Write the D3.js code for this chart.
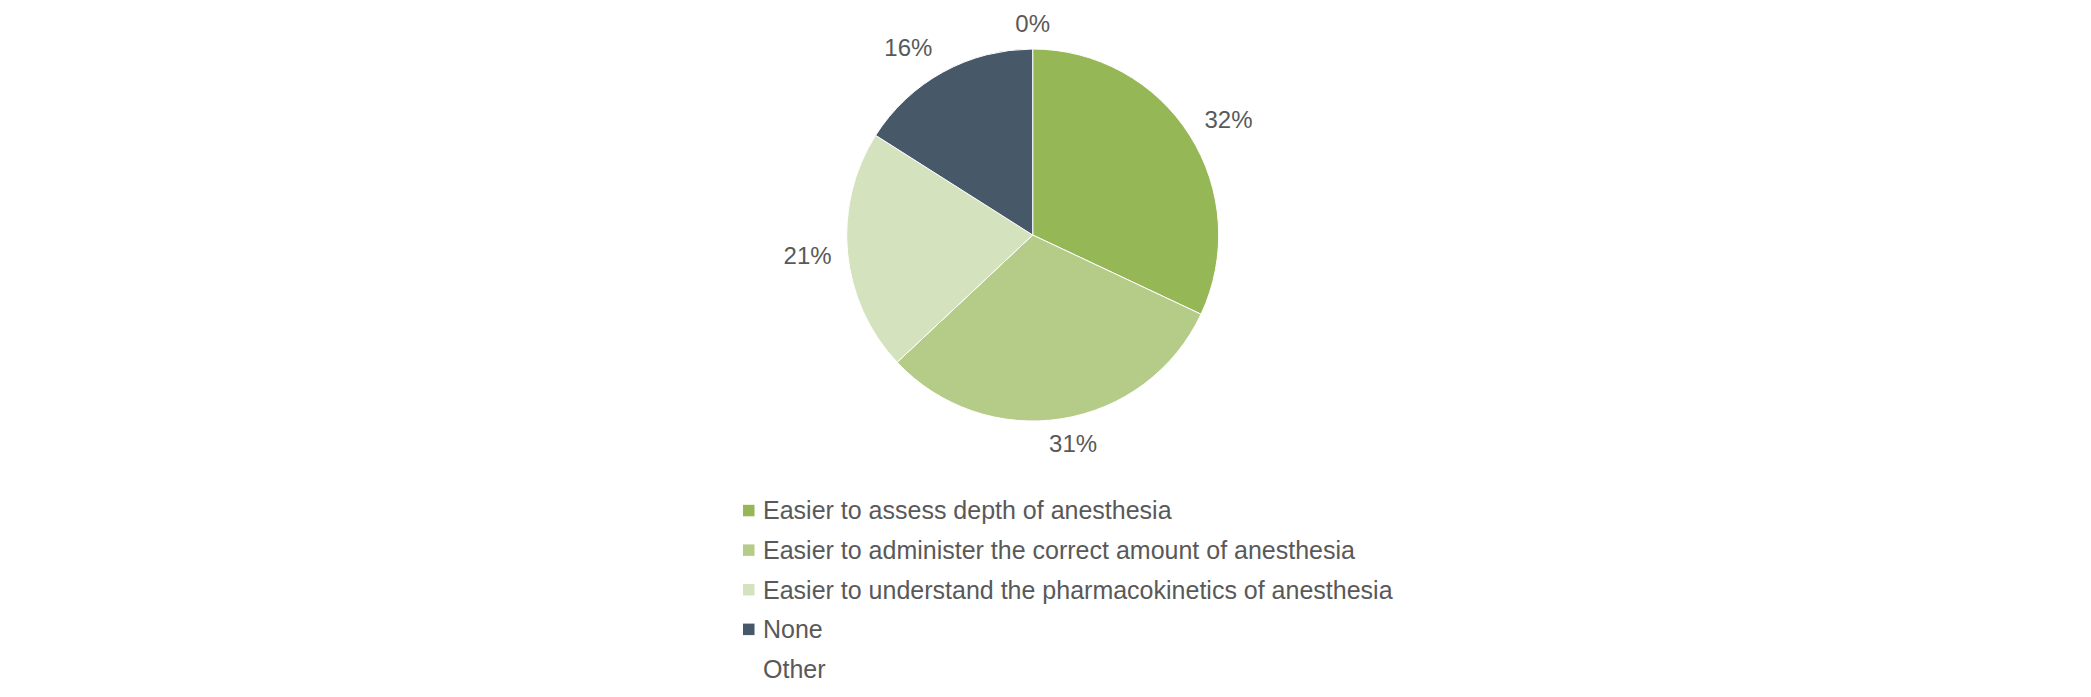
<!DOCTYPE html>
<html>
<head>
<meta charset="utf-8">
<script src="https://cdn.jsdelivr.net/npm/d3@7"></script>
<style>
  html, body { margin: 0; padding: 0; background: #ffffff; }
  svg { display: block; }
  text { font-family: "Liberation Sans", Arial, sans-serif; fill: #595959; }
</style>
</head>
<body>
<svg id="chart" width="2091" height="697"></svg>
<script>
const categories = [
  "Easier to assess depth of anesthesia",
  "Easier to administer the correct amount of anesthesia",
  "Easier to understand the pharmacokinetics of anesthesia",
  "None",
  "Other"
];
const values = [32, 31, 21, 16, 0];
const colors = ["#95b755", "#b5cc88", "#d4e2bd", "#475869", "#ffffff"];

const W = 2091, H = 697;
const cx = 1032.7, cy = 235, R = 186;
const svg = d3.select("#chart");

const data = categories.map((c, i) => ({ name: c, value: values[i], color: colors[i] }));

const pie = d3.pie().sort(null).value(d => d.value);
const arcs = pie(data);
const arc = d3.arc().innerRadius(0).outerRadius(R);

const g = svg.append("g").attr("transform", `translate(${cx},${cy})`);

g.selectAll("path.slice")
  .data(arcs.filter(a => a.data.value > 0))
  .join("path")
  .attr("class", "slice")
  .attr("d", arc)
  .attr("fill", d => d.data.color)
  .attr("stroke", "#ffffff")
  .attr("stroke-width", 1);

// labels (outside end)
const total = d3.sum(values);
const fmt = v => Math.round(v / total * 100) + "%";
const fs = 24;
const gap = 8, px = 8, py = 3, kx = 2, ky = 1.2;
const clamp = v => Math.max(-1, Math.min(1, v));

arcs.forEach(a => {
  const mid = (a.startAngle + a.endAngle) / 2;
  const s = Math.sin(mid), c = Math.cos(mid);
  const label = fmt(a.data.value);
  const t = g.append("text")
    .attr("font-size", fs)
    .attr("text-anchor", "middle")
    .attr("dy", "0.35em")
    .text(label);
  const tw = t.node().getComputedTextLength();
  const th = fs * 1.2;
  const ax = (R + gap) * s, ay = -(R + gap) * c;
  const x = ax + clamp(s * kx) * (tw / 2 + px);
  const y = ay - clamp(c * ky) * (th / 2 + py);
  t.attr("x", x).attr("y", y);
});

// legend
const legX = 743, legY0 = 519.3, legStep = 39.6, mk = 11.5;
const leg = svg.append("g");
data.forEach((d, i) => {
  const by = legY0 + i * legStep;
  if (d.value > 0) {
    leg.append("rect")
      .attr("x", legX).attr("y", by - 14.5)
      .attr("width", mk).attr("height", mk)
      .attr("fill", d.color);
  }
  leg.append("text")
    .attr("x", legX + 20)
    .attr("y", by)
    .attr("font-size", 25)
    .text(d.name);
});
</script>
</body>
</html>
